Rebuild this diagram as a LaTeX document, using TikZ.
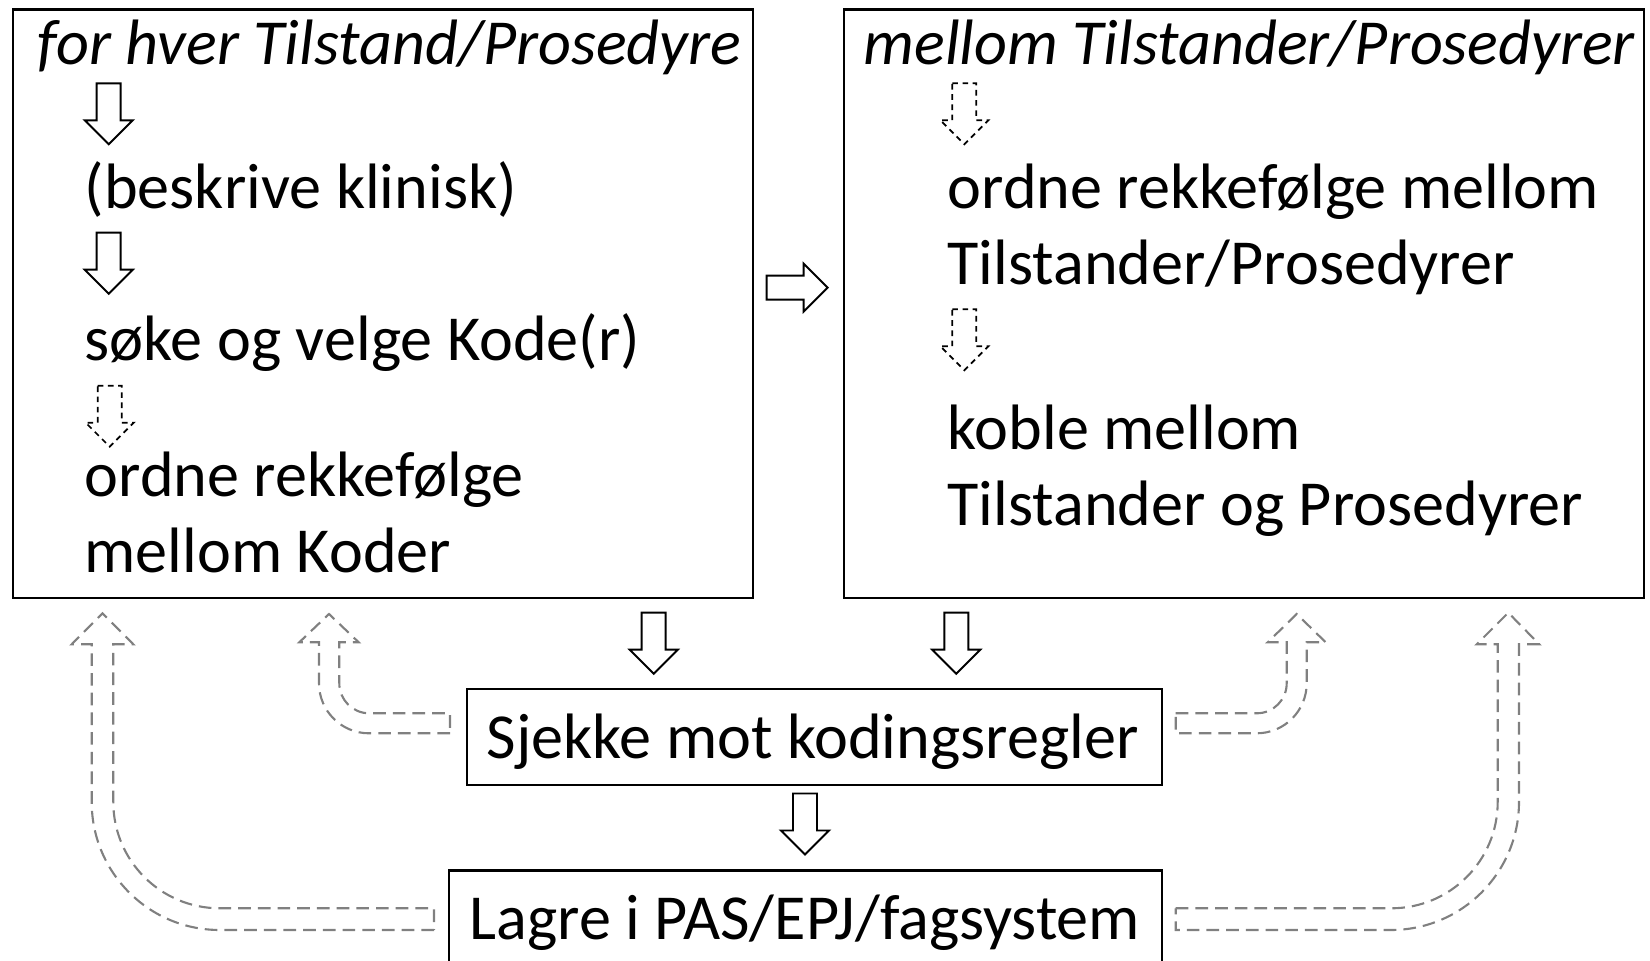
\documentclass[tikz,border=0pt]{standalone}
\usepackage{fontspec}
\setmainfont{Carlito}
\usetikzlibrary{shadows.blur}
\tikzset{
  boxstyle/.style={draw=black, line width=0.6pt, fill=white, inner sep=0pt, anchor=north west},
  txt/.style={anchor=base west, inner sep=0pt, font=\fontsize{18.25}{21.9}\selectfont},
  ttl/.style={txt, font=\fontsize{18.25}{21.9}\selectfont\itshape},
  solidarr/.style={draw=black, fill=white, line width=0.55pt, line join=miter,
    blur shadow={shadow xshift=0.7pt, shadow yshift=-0.9pt, shadow blur radius=1.2pt, shadow opacity=35}},
  dasharr/.style={draw=black, line width=0.5pt, dash pattern=on 1.6pt off 1.3pt},
  greyarr/.style={draw=black!50, line width=0.6pt, dash pattern=on 3.6pt off 2pt},
  blockdown/.pic={\path[pic actions] (-12,0) -- (12,0) -- (12,37) -- (24,37) -- (0,61) -- (-24,37) -- (-12,37) -- cycle;}
}
\begin{document}
\begin{tikzpicture}[x=0.01cm, y=-0.01cm]
\useasboundingbox (0,0) rectangle (1650,961);
\clip (0,0) rectangle (1650,961);

% boxes
\node[boxstyle, minimum width=7.40cm, minimum height=5.883cm] (leftbox) at (11.6,8.4) {};
\node[boxstyle, minimum width=7.994cm, minimum height=5.883cm] (rightbox) at (842.9,8.4) {};
\node[boxstyle, minimum width=6.943cm, minimum height=0.961cm] (checkbox) at (466.2,688.2) {};
\node[boxstyle, minimum width=7.122cm, minimum height=1.5cm] (savebox) at (448.3,869.5) {};

% left box texts
\node[ttl] (t1) at (37,65) {for hver Tilstand/Prosedyre};
\node[txt] (l1) at (84,209) {(beskrive klinisk)};
\node[txt] (l2) at (84,361) {søke og velge Kode(r)};
\node[txt] (l3) at (84,497) {ordne rekkefølge};
\node[txt] (l4) at (84,573) {mellom Koder};

% right box texts
\node[ttl] (t2) at (863,65) {mellom Tilstander/Prosedyrer};
\node[txt] (r1) at (947,209) {ordne rekkefølge mellom};
\node[txt] (r2) at (947,285) {Tilstander/Prosedyrer};
\node[txt] (r3) at (947,450) {koble mellom};
\node[txt] (r4) at (947,526) {Tilstander og Prosedyrer};

% lower texts
\node[txt] (c1) at (486,759) {Sjekke mot kodingsregler};
\node[txt] (s1) at (469,940) {Lagre i PAS/EPJ/fagsystem};

% small arrows inside boxes
\pic[draw=black, fill=white, line width=0.55pt] at (108.7,83.3) {blockdown};
\pic[draw=black, fill=white, line width=0.55pt] at (108.7,232.7) {blockdown};
\pic[dasharr] at (109.7,385.7) {blockdown};
\pic[dasharr] at (964.3,83.3) {blockdown};
\pic[dasharr] at (964.3,309.3) {blockdown};

% arrows between boxes
\pic[solidarr, rotate=90] at (766.7,287.6) {blockdown};
\pic[solidarr] at (653.7,612.7) {blockdown};
\pic[solidarr] at (956.3,612.7) {blockdown};
\pic[solidarr] at (805,793.5) {blockdown};

% grey dashed feedback arrows
\draw[greyarr] (434,930) -- (219.7,930) .. controls (149,930) and (91.7,872.7) .. (91.7,802)
  -- (91.7,644.3) -- (71.7,644.3) -- (102.5,613.3) -- (133.3,644.3) -- (113.3,644.3)
  -- (113.3,802) .. controls (113.3,860.8) and (160.9,908.3) .. (219.7,908.3) -- (434,908.3) -- cycle;
\draw[greyarr] (450,733.3) -- (369,733.3) .. controls (341.4,733.3) and (319,710.9) .. (319,683.3)
  -- (319,642.3) -- (299.3,642.3) -- (329,614) -- (358.7,642.3) -- (339.3,642.3)
  -- (339.3,683.3) .. controls (339.3,699.9) and (352.7,713.3) .. (369.3,713.3) -- (450,713.3) -- cycle;
\draw[greyarr] (1175.7,713.3) -- (1256.7,713.3) .. controls (1273.3,713.3) and (1286.7,699.9) .. (1286.7,683.3)
  -- (1286.7,642.3) -- (1267.7,642.3) -- (1296.7,614) -- (1325.7,642.3) -- (1306.7,642.3)
  -- (1306.7,683.3) .. controls (1306.7,710.9) and (1284.3,733.3) .. (1256.7,733.3) -- (1175.7,733.3) -- cycle;
\draw[greyarr] (1175.7,908.3) -- (1391.3,908.3) .. controls (1450.1,908.3) and (1497.7,860.8) .. (1497.7,802)
  -- (1497.7,644.3) -- (1476.7,644.3) -- (1508.3,612.7) -- (1539.3,644.3) -- (1519,644.3)
  -- (1519,802) .. controls (1519,872.7) and (1461.7,930) .. (1391,930) -- (1175.7,930) -- cycle;
\end{tikzpicture}
\end{document}
